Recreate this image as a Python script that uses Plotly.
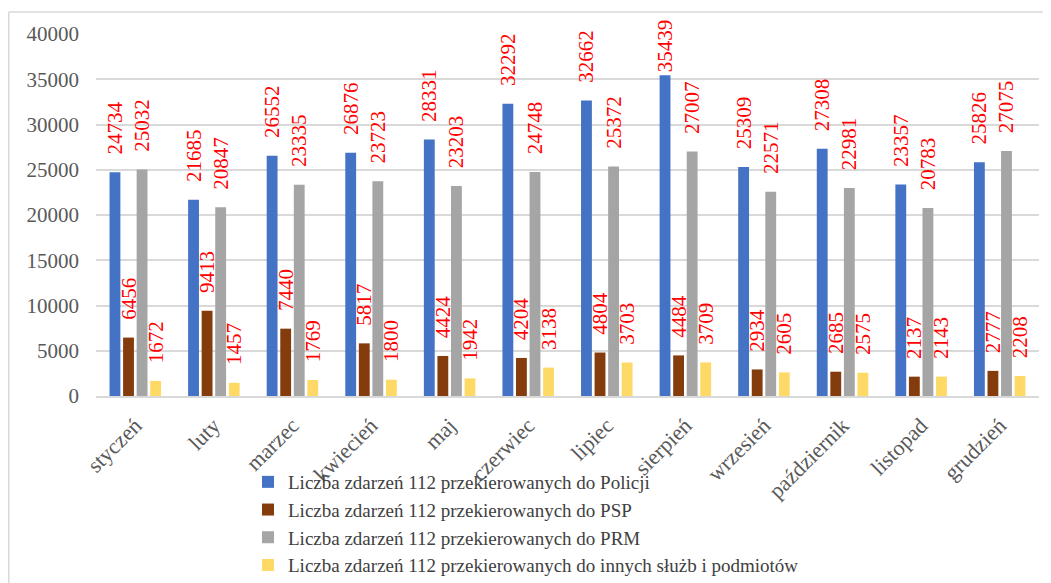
import plotly.graph_objects as go

months = ["styczeń", "luty", "marzec", "kwiecień", "maj", "czerwiec", "lipiec",
          "sierpień", "wrzesień", "październik", "listopad", "grudzień"]

policja = [24734, 21685, 26552, 26876, 28331, 32292, 32662, 35439, 25309, 27308, 23357, 25826]
psp = [6456, 9413, 7440, 5817, 4424, 4204, 4804, 4484, 2934, 2685, 2137, 2777]
prm = [25032, 20847, 23335, 23723, 23203, 24748, 25372, 27007, 22571, 22981, 20783, 27075]
inne = [1672, 1457, 1769, 1800, 1942, 3138, 3703, 3709, 2605, 2575, 2143, 2208]

names = [
    "Liczba zdarzeń 112 przekierowanych do Policji",
    "Liczba zdarzeń 112 przekierowanych do PSP",
    "Liczba zdarzeń 112 przekierowanych do PRM",
    "Liczba zdarzeń 112 przekierowanych do innych służb i podmiotów",
]
colors = ["#4472C4", "#843C0C", "#A5A5A5", "#FFD966"]
series = [policja, psp, prm, inne]

FONT = "Liberation Serif"
PAD = "\u00a0\u00a0\u2009"  # gap between bar top and rotated label

# plot area (figure pixels)
L, T, PW, PH = 88, 26, 943, 362
W, H = 1051, 583
YMAX = 40000


def label(v):
    # labels that would run past the chart top are kept tight to the bar
    return (PAD if v < 0.85 * YMAX else "") + str(v)


fig = go.Figure()
for name, vals, col in zip(names, series, colors):
    fig.add_trace(go.Bar(
        x=months, y=vals, name=name, marker_color=col, marker_line_width=0,
        text=[label(v) for v in vals], textposition="outside", textangle=-90,
        textfont=dict(family=FONT, size=21, color="#FF0000"),
        constraintext="none", cliponaxis=False,
    ))

fig.update_layout(
    width=W, height=H,
    margin=dict(l=L, r=W - L - PW, t=T, b=H - T - PH, autoexpand=False),
    paper_bgcolor="white", plot_bgcolor="white",
    barmode="group", bargap=0.31, bargroupgap=0.2,
    font=dict(family=FONT, size=20, color="#595959"),
    legend=dict(
        orientation="v", x=(240 - L) / PW, xanchor="left",
        y=(T + PH - 455) / PH, yanchor="top",
        font=dict(family=FONT, size=19, color="#404040"),
        bgcolor="rgba(0,0,0,0)", itemwidth=30, tracegroupgap=0,
    ),
    xaxis=dict(
        tickangle=-45, showgrid=False, showline=True, linecolor="#D9D9D9",
        linewidth=2, ticks="", automargin=False, ticklabelstandoff=6,
        tickfont=dict(family=FONT, size=22, color="#595959"),
    ),
    yaxis=dict(
        range=[0, YMAX], dtick=5000, showgrid=True, gridcolor="#D9D9D9",
        gridwidth=1.5, zeroline=False, ticks="", tickformat="d", automargin=False,
        ticklabelstandoff=16,
        tickfont=dict(family=FONT, size=21, color="#595959"),
    ),
    shapes=[
        dict(type="line", xref="paper", yref="paper",
             x0=(0.75 - L) / PW, x1=1.2, y0=(T + PH - 4) / PH, y1=(T + PH - 4) / PH,
             line=dict(color="#D9D9D9", width=1.5)),
        dict(type="line", xref="paper", yref="paper",
             x0=(0.75 - L) / PW, x1=(0.75 - L) / PW, y0=(T + PH - 4) / PH, y1=-0.6,
             line=dict(color="#D9D9D9", width=1.5)),
    ],
)

fig.write_html("out.html")
